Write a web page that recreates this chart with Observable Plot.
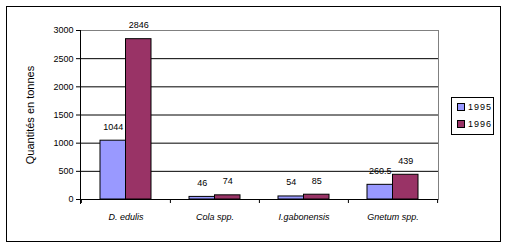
<!DOCTYPE html>
<html><head><meta charset="utf-8">
<script src="https://cdn.jsdelivr.net/npm/d3@7"></script>
<script src="https://cdn.jsdelivr.net/npm/@observablehq/plot@0.6"></script>
<style>
body{margin:0;background:#fff;font-family:"Liberation Sans",Arial,sans-serif;}
#wrap{position:relative;width:507px;height:247px;}
#border{position:absolute;left:6px;top:6px;width:493px;height:234px;border:1px solid #000;box-sizing:content-box;pointer-events:none;}
#legend{position:absolute;left:451px;top:97px;width:41px;height:36px;border:1px solid #000;font-size:9px;letter-spacing:1px;}
.li{position:absolute;left:5px;display:flex;align-items:center;}
.sw{width:6px;height:6px;border:1px solid #000;margin-right:3px;}
</style></head>
<body><div id="wrap"><div id="border"></div><div id="chart"></div>
<div id="legend"></div></div>
<script>
const categories = ["D. edulis", "Cola spp.", "I.gabonensis", "Gnetum spp."];
const series = ["1995", "1996"];
const values1995 = [1044, 46, 54, 260.5];
const values1996 = [2846, 74, 85, 439];
const yTicks = [0, 500, 1000, 1500, 2000, 2500, 3000];
const colors = ["#9999FF", "#993366"];

const rows = categories.flatMap((c, i) => [
  {cat: c, year: series[0], v: values1995[i]},
  {cat: c, year: series[1], v: values1996[i]}
]);
const r95 = rows.filter(d => d.year === series[0]);
const r96 = rows.filter(d => d.year === series[1]);
const half = 25.5;

const chart = Plot.plot({
  width: 507, height: 247,
  marginLeft: 80, marginRight: 69, marginTop: 30, marginBottom: 48,
  style: {fontFamily: "Liberation Sans, Arial, sans-serif", fontSize: "9px", background: "transparent"},
  x: {type: "band", domain: categories, paddingInner: 0.4286, paddingOuter: 0.2143, label: null},
  y: {domain: [0, 3000], label: null},
  color: {domain: series, range: colors},
  marks: [
    Plot.ruleY(yTicks.filter(t => t > 0 && t < 3000), {stroke: "#000", strokeOpacity: 1}),
    Plot.frame({anchor: "top", stroke: "#808080", strokeOpacity: 1}),
    Plot.frame({anchor: "right", stroke: "#808080", strokeOpacity: 1}),
    Plot.barY(r95, {x: "cat", y: "v", fill: "year", stroke: "#000", strokeWidth: 1, insetRight: half}),
    Plot.barY(r96, {x: "cat", y: "v", fill: "year", stroke: "#000", strokeWidth: 1, insetLeft: half}),
    Plot.text(r95, {x: "cat", y: "v", text: d => String(d.v), dx: -half / 2, dy: -14, fill: "#000", fontSize: 9, style: "letter-spacing:1.5px"}),
    Plot.text(r96, {x: "cat", y: "v", text: d => String(d.v), dx: half / 2, dy: -14, fill: "#000", fontSize: 9, style: "letter-spacing:1.5px"}),
    Plot.ruleY([0], {stroke: "#000"}),
    Plot.frame({anchor: "left", stroke: "#000", strokeOpacity: 1, insetBottom: -4}),
    Plot.axisY({ticks: yTicks, tickSize: 4, tickFormat: d => String(d), label: null, fontSize: 9, tickPadding: 3, stroke: "#000", strokeOpacity: 1, style: "letter-spacing:1.5px"}),
    Plot.axisX({tickSize: 0, tickPadding: 14, fontSize: 9, fontStyle: "italic", label: null, style: "letter-spacing:1.5px"}),
    Plot.axisX({tickSize: 4, text: null, dx: -44.6, label: null, stroke: "#000", strokeOpacity: 1}),
    Plot.axisX([categories[categories.length - 1]], {tickSize: 4, text: null, dx: 44.6, label: null, stroke: "#000", strokeOpacity: 1}),
    Plot.text(["Quantités en tonnes"], {frameAnchor: "left", textAnchor: "middle", dx: -50, rotate: -90, fontSize: 11, fill: "#000"})
  ]
});
document.getElementById("chart").appendChild(chart);

const leg = document.getElementById("legend");
series.forEach((s, i) => {
  const d = document.createElement("div");
  d.className = "li";
  d.style.top = (4 + i * 17) + "px";
  d.innerHTML = `<span class="sw" style="background:${colors[i]}"></span><span>${s}</span>`;
  leg.appendChild(d);
});
</script></body></html>
